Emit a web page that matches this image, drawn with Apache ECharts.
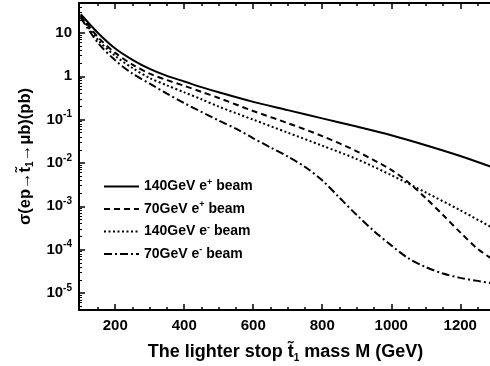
<!DOCTYPE html>
<html><head><meta charset="utf-8">
<script src="https://cdn.jsdelivr.net/npm/echarts@6/dist/echarts.min.js"></script>
<style>html,body{margin:0;padding:0;background:#fff}#c{width:490px;height:366px}</style>
</head><body><div id="c"></div>
<script>
// ---- data (cross sections in pb vs stop mass in GeV) ----
const massSolid = [100,150,200,250,300,350,400,450,500,600,700,800,900,1000,1100,1200,1290];
const valSolid  = [27.0,10,4.37,2.40,1.48,1.02,0.759,0.562,0.427,0.257,0.166,0.107,0.0692,0.0437,0.0257,0.0145,0.00813];

const massDash = [100,150,200,250,300,350,400,450,500,600,700,800,900,1000,1050,1100,1150,1200,1250,1290];
const valDash  = [25.5,7.94,3.47,1.86,1.15,0.813,0.603,0.437,0.316,0.158,0.0832,0.0417,0.0186,0.00692,0.00355,0.00155,6.31e-4,2.51e-4,1.05e-4,6.31e-5];

const massDot = [100,150,200,250,300,350,400,450,500,600,700,800,900,1000,1100,1200,1290];
const valDot  = [24.0,6.92,2.95,1.55,0.912,0.617,0.427,0.295,0.200,0.100,0.0501,0.0251,0.0123,0.00525,0.00209,8.13e-4,3.31e-4];

const massDashDot = [100,150,200,250,300,350,400,500,550,600,650,700,750,800,850,900,950,1000,1050,1100,1150,1200,1250,1290];
const valDashDot  = [22.5,5.89,2.34,1.15,0.676,0.398,0.240,0.0955,0.0617,0.0372,0.0229,0.0141,0.00813,0.00398,0.00158,6.31e-4,2.69e-4,1.26e-4,6.31e-5,3.98e-5,2.82e-5,2.24e-5,1.91e-5,1.70e-5];

const energies = ['140GeV','70GeV','140GeV','70GeV'];
const charges  = ['+','+','-','-'];

// ---- ticks ----
const xMajorTicks = [200,400,600,800,1000,1200];
const xMinorTicks = [150,250,300,350,450,500,550,650,700,750,850,900,950,1050,1100,1150,1250];
const yMajorTicks = [1e-5,1e-4,1e-3,1e-2,1e-1,1,10];
const yMinorTicks = [];
for (let n = -6; n <= 1; n++) for (let k = 2; k <= 9; k++) yMinorTicks.push(+(k * Math.pow(10, n)).toPrecision(3));

const X_MIN = 95, X_MAX = 1292;
const Y_MIN = 4.07e-6, Y_MAX = 49;

const FONT = 'Liberation Sans';
const names = energies.map((e, i) => e + ' e' + charges[i] + ' beam');
const pairs = (xs, ys) => xs.map((x, i) => [x, ys[i]]);

const chart = echarts.init(document.getElementById('c'), null, {renderer: 'canvas'});

function xAxisDef(pos, major, extra) {
  return Object.assign({
    type: 'value', min: X_MIN, max: X_MAX, position: pos,
    axisLine: {show: major, lineStyle: {color: '#000', width: 2}},
    axisTick: {show: true, inside: true, length: major ? 6 : 3,
      customValues: major ? xMajorTicks : xMinorTicks,
      lineStyle: {color: '#000', width: 1.5}},
    axisLabel: {show: false},
    splitLine: {show: false}
  }, extra || {});
}

const option = {
  animation: false,
  backgroundColor: '#fff',
  grid: {left: 79, top: 3, right: -2, bottom: 56, containLabel: false, outerBoundsMode: 'none'},
  xAxis: [
    xAxisDef('bottom', true, {
      axisLabel: {show: true, customValues: xMajorTicks, color: '#000', fontFamily: FONT,
        fontWeight: 'bold', fontSize: 15, margin: 8, formatter: v => String(v)},
      name: '{b|The lighter stop t\u0303}{sub|1}{b| mass M (GeV)}',
      nameLocation: 'middle', nameGap: 31,
      nameTextStyle: {rich: {
        b: {fontFamily: FONT, fontWeight: 'bold', fontSize: 18, color: '#000'},
        sub: {fontFamily: FONT, fontWeight: 'bold', fontSize: 10, color: '#000', padding: [12, 0, 0, 0]}
      }}
    }),
    xAxisDef('bottom', false),
    xAxisDef('top', true),
    xAxisDef('top', false)
  ],
  yAxis: [
    {
      type: 'log', min: Y_MIN, max: Y_MAX, position: 'left',
      axisLine: {show: true, lineStyle: {color: '#000', width: 2}},
      axisTick: {show: true, inside: true, length: 6, customValues: yMajorTicks, lineStyle: {color: '#000', width: 1.5}},
      minorTick: {show: false},
      splitLine: {show: false},
      axisLabel: {
        customValues: yMajorTicks, margin: 7,
        formatter: function (v) {
          const e = Math.round(Math.log10(v));
          if (e === 1) return '{b|10}';
          if (e === 0) return '{b|1}';
          return '{b|10}{s|' + e + '}';
        },
        rich: {
          b: {fontFamily: FONT, fontWeight: 'bold', fontSize: 15, color: '#000'},
          s: {fontFamily: FONT, fontWeight: 'bold', fontSize: 10, color: '#000', padding: [0, 0, 10, 0]}
        }
      },
      name: '{b|\u03c3(ep\u2192t\u0303}{sub|1}{b|\u2192\u03bcb)(pb)}',
      nameLocation: 'middle', nameRotate: 90, nameGap: 41,
      nameTextStyle: {rich: {
        b: {fontFamily: FONT, fontWeight: 'bold', fontSize: 16.5, color: '#000'},
        sub: {fontFamily: FONT, fontWeight: 'bold', fontSize: 10, color: '#000', padding: [11, 0, 0, 0]}
      }}
    },
    {
      type: 'log', min: Y_MIN, max: Y_MAX, position: 'left',
      axisLine: {show: false},
      axisTick: {show: true, inside: true, length: 3, customValues: yMinorTicks, lineStyle: {color: '#000', width: 1}},
      axisLabel: {show: false},
      splitLine: {show: false}
    }
  ],
  legend: {
    orient: 'vertical', left: 103, top: 178, itemWidth: 35, itemHeight: 14, itemGap: 7, padding: 0,
    itemStyle: {opacity: 0, borderWidth: 0},
    data: names,
    formatter: function (name) {
      const i = names.indexOf(name);
      return '{t|' + energies[i] + ' e}{s|' + charges[i] + '}{t| beam}';
    },
    textStyle: {rich: {
      t: {fontFamily: FONT, fontWeight: 'bold', fontSize: 14, color: '#000'},
      s: {fontFamily: FONT, fontWeight: 'bold', fontSize: 9, color: '#000', padding: [0, 0, 8, 0]}
    }}
  },
  series: [
    {name: names[0], type: 'line', smooth: 0.3, symbol: 'none', color: '#000', data: pairs(massSolid, valSolid),
      lineStyle: {color: '#000', width: 2, type: 'solid'}},
    {name: names[1], type: 'line', smooth: 0.3, symbol: 'none', color: '#000', data: pairs(massDash, valDash),
      lineStyle: {color: '#000', width: 2, type: [6, 4]}},
    {name: names[2], type: 'line', smooth: 0.3, symbol: 'none', color: '#000', data: pairs(massDot, valDot),
      lineStyle: {color: '#000', width: 2, type: [2, 2.5]}},
    {name: names[3], type: 'line', smooth: 0.3, symbol: 'none', color: '#000', data: pairs(massDashDot, valDashDot),
      lineStyle: {color: '#000', width: 2, type: [8, 3, 2, 3]}}
  ]
};
chart.setOption(option);
</script>
</body></html>
